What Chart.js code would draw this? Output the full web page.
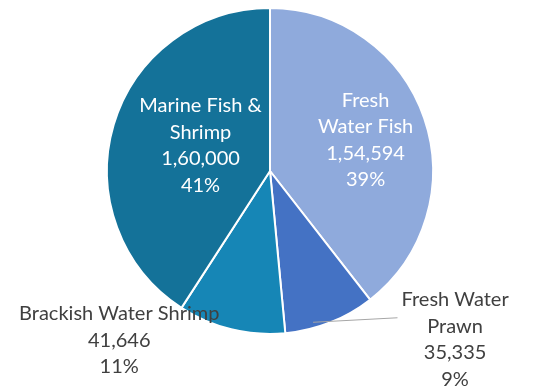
<!DOCTYPE html>
<html lang="en">
<head>
  <meta charset="UTF-8">
  <title>Fish Production Share</title>
  <script src="https://cdn.jsdelivr.net/npm/chart.js"></script>
  <style>
    body { margin: 0; padding: 0; background: #fff; }
    #wrap { width: 552px; height: 390px; position: relative; }
  </style>
</head>
<body>
<div id="wrap"><canvas id="pieChart"></canvas></div>
<script>
  // Production by category (clockwise from 12 o'clock)
  const categories = ['Fresh Water Fish', 'Fresh Water Prawn', 'Brackish Water Shrimp', 'Marine Fish & Shrimp'];
  const labelLines = [['Fresh', 'Water Fish'], ['Fresh Water', 'Prawn'], ['Brackish Water Shrimp'], ['Marine Fish &', 'Shrimp']];
  const production = [154594, 35335, 41646, 160000];
  const sliceColors = ['#8faadc', '#4472c4', '#1686b6', '#147299'];

  // where each label sits: inside the slice or outside with an offset from the rim
  const labelPlace = [
    { inside: true, k: 0.62, dx: 0, dy: 2 },
    { inside: false, k: 1.0, dx: 125, dy: 17, leader: true },
    { inside: false, k: 1.0, dx: -112, dy: 11 },
    { inside: true, k: 0.47, dx: 4, dy: -4 }
  ];

  const total = production.reduce((a, b) => a + b, 0);

  // Indian digit grouping, e.g. 1,60,000
  function formatIN(n) {
    const s = String(n);
    if (s.length <= 3) return s;
    const last3 = s.slice(-3);
    let rest = s.slice(0, -3);
    const parts = [];
    while (rest.length > 2) {
      parts.unshift(rest.slice(-2));
      rest = rest.slice(0, -2);
    }
    if (rest) parts.unshift(rest);
    return parts.join(',') + ',' + last3;
  }

  const lineH = 26.5;
  const fontStr = '20px Lato, "Open Sans", sans-serif';

  const pieLabels = {
    id: 'pieLabels',
    afterDatasetsDraw(chart) {
      const ctx = chart.ctx;
      const meta = chart.getDatasetMeta(0);
      ctx.save();
      ctx.font = fontStr;
      ctx.textAlign = 'center';
      ctx.textBaseline = 'middle';
      meta.data.forEach((arc, i) => {
        const p = labelPlace[i];
        const mid = (arc.startAngle + arc.endAngle) / 2;
        const r = arc.outerRadius * p.k;
        const ax = arc.x + Math.cos(mid) * r;
        const ay = arc.y + Math.sin(mid) * r;
        const cx = ax + p.dx;
        const cy = ay + p.dy;
        const lines = labelLines[i].concat([formatIN(production[i]), Math.round(production[i] / total * 100) + '%']);
        const top = cy - (lines.length - 1) * lineH / 2;

        if (p.leader) {
          const w = ctx.measureText(lines[0]).width;
          ctx.strokeStyle = '#a6a6a6';
          ctx.lineWidth = 1;
          ctx.beginPath();
          ctx.moveTo(arc.x + Math.cos(mid + 0.1) * arc.outerRadius * 0.965, arc.y + Math.sin(mid + 0.1) * arc.outerRadius * 0.965);
          ctx.lineTo(cx - w / 2 - 4, top + 18);
          ctx.stroke();
        }

        ctx.fillStyle = p.inside ? '#ffffff' : '#404040';
        lines.forEach((t, j) => ctx.fillText(t, cx, top + j * lineH));
      });
      ctx.restore();
    }
  };

  new Chart(document.getElementById('pieChart'), {
    type: 'pie',
    data: {
      labels: categories,
      datasets: [{
        data: production,
        backgroundColor: sliceColors,
        borderColor: '#ffffff',
        borderWidth: 2
      }]
    },
    options: {
      responsive: true,
      maintainAspectRatio: false,
      animation: false,
      layout: { padding: { top: 7, bottom: 55, left: 106, right: 118 } },
      plugins: {
        legend: { display: false },
        tooltip: { enabled: false }
      }
    },
    plugins: [pieLabels]
  });
</script>
</body>
</html>
